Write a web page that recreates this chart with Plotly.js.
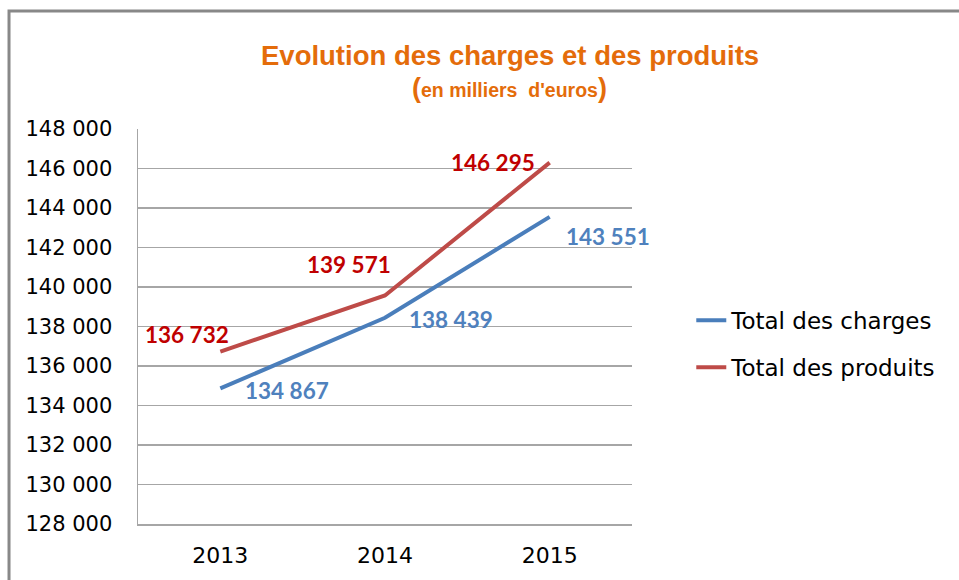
<!DOCTYPE html>
<html>
<head>
<meta charset="utf-8">
<script src="https://cdn.plot.ly/plotly-3.0.1.min.js"></script>
<style>html,body{margin:0;padding:0;background:#fff;}#chart{width:959px;height:580px;}</style>
</head>
<body>
<div id="chart"></div>
<script>
var years = ['2013', '2014', '2015'];
var charges = [134867, 138439, 143551];
var produits = [136732, 139571, 146295];
var seriesNames = ['Total des charges', 'Total des produits'];
var yTicks = [128000, 130000, 132000, 134000, 136000, 138000, 140000, 142000, 144000, 146000, 148000];

function fmt(v) { return String(v).replace(/\B(?=(\d{3})+(?!\d))/g, ' '); }

var blue = '#4A7EBB', red = '#BE4B48';
var labelFont = 'DejaVu Sans, sans-serif';
var dataFont = 'Lato, sans-serif';

var traces = [
  {x: years, y: charges, name: seriesNames[0], mode: 'lines', legendgroup: 'a',
   line: {color: blue, width: 4}, hoverinfo: 'skip'},
  {x: years, y: produits, name: seriesNames[1], mode: 'lines', legendgroup: 'b',
   line: {color: red, width: 4}, hoverinfo: 'skip'}
];

var blueShift = [[67, -2], [66, -2], [58, -20]];
var redShift = [[-33, 17], [-36, 31], [-57, 0]];
var annotations = [];
years.forEach(function (yr, i) {
  annotations.push({x: i, y: charges[i], xref: 'x', yref: 'y', text: fmt(charges[i]), showarrow: false,
    xshift: blueShift[i][0], yshift: blueShift[i][1],
    font: {family: dataFont, size: 22.5, color: '#4F81BD', weight: 'bold'}});
  annotations.push({x: i, y: produits[i], xref: 'x', yref: 'y', text: fmt(produits[i]), showarrow: false,
    xshift: redShift[i][0], yshift: redShift[i][1],
    font: {family: dataFont, size: 22.5, color: '#C00000', weight: 'bold'}});
});
annotations.push({xref: 'paper', yref: 'paper', x: 0.753, y: 1.187, xanchor: 'center', yanchor: 'middle',
  text: '<b>Evolution des charges et des produits</b>', showarrow: false,
  font: {family: 'Liberation Sans, Arial, sans-serif', size: 27.5, color: '#E46C0A'}});
annotations.push({xref: 'paper', yref: 'paper', x: 0.753, y: 1.104, xanchor: 'center', yanchor: 'middle',
  text: '<b><span style="font-size:27px">(</span>en milliers  d\'euros<span style="font-size:27px">)</span></b>', showarrow: false,
  font: {family: 'Liberation Sans, Arial, sans-serif', size: 19.5, color: '#E46C0A'}});

var layout = {
  width: 959, height: 580,
  margin: {l: 138, r: 327, t: 129, b: 56},
  paper_bgcolor: '#fff', plot_bgcolor: '#fff',
  separators: ', ',
  showlegend: true,
  legend: {x: 1.12, xanchor: 'left', y: 0.57, yanchor: 'top', traceorder: 'grouped', tracegroupgap: 14,
    font: {family: labelFont, size: 23, color: '#000'}, bgcolor: 'rgba(0,0,0,0)', itemwidth: 30},
  xaxis: {type: 'category', range: [-0.5, 2.5], showgrid: false, showline: true, linecolor: '#A6A6A6', linewidth: 1.5,
    ticks: '', ticklabelstandoff: 11, tickfont: {family: labelFont, size: 22, color: '#000'}, fixedrange: true},
  yaxis: {range: [128000, 148000], tickvals: yTicks, tickformat: ',d', showgrid: true, gridcolor: '#A6A6A6', gridwidth: 1.2,
    showline: true, linecolor: '#A6A6A6', linewidth: 1.5, zeroline: false, ticks: '', ticklabelstandoff: 20,
    tickfont: {family: labelFont, size: 21, color: '#000'}, fixedrange: true},
  shapes: [{type: 'rect', xref: 'paper', yref: 'paper', x0: -0.2611, x1: 1.672, y0: -0.2, y1: 1.2987,
    line: {color: '#888888', width: 3}, layer: 'below'}],
  annotations: annotations
};

Plotly.newPlot('chart', traces, layout, {displayModeBar: false, staticPlot: true});
</script>
</body>
</html>
